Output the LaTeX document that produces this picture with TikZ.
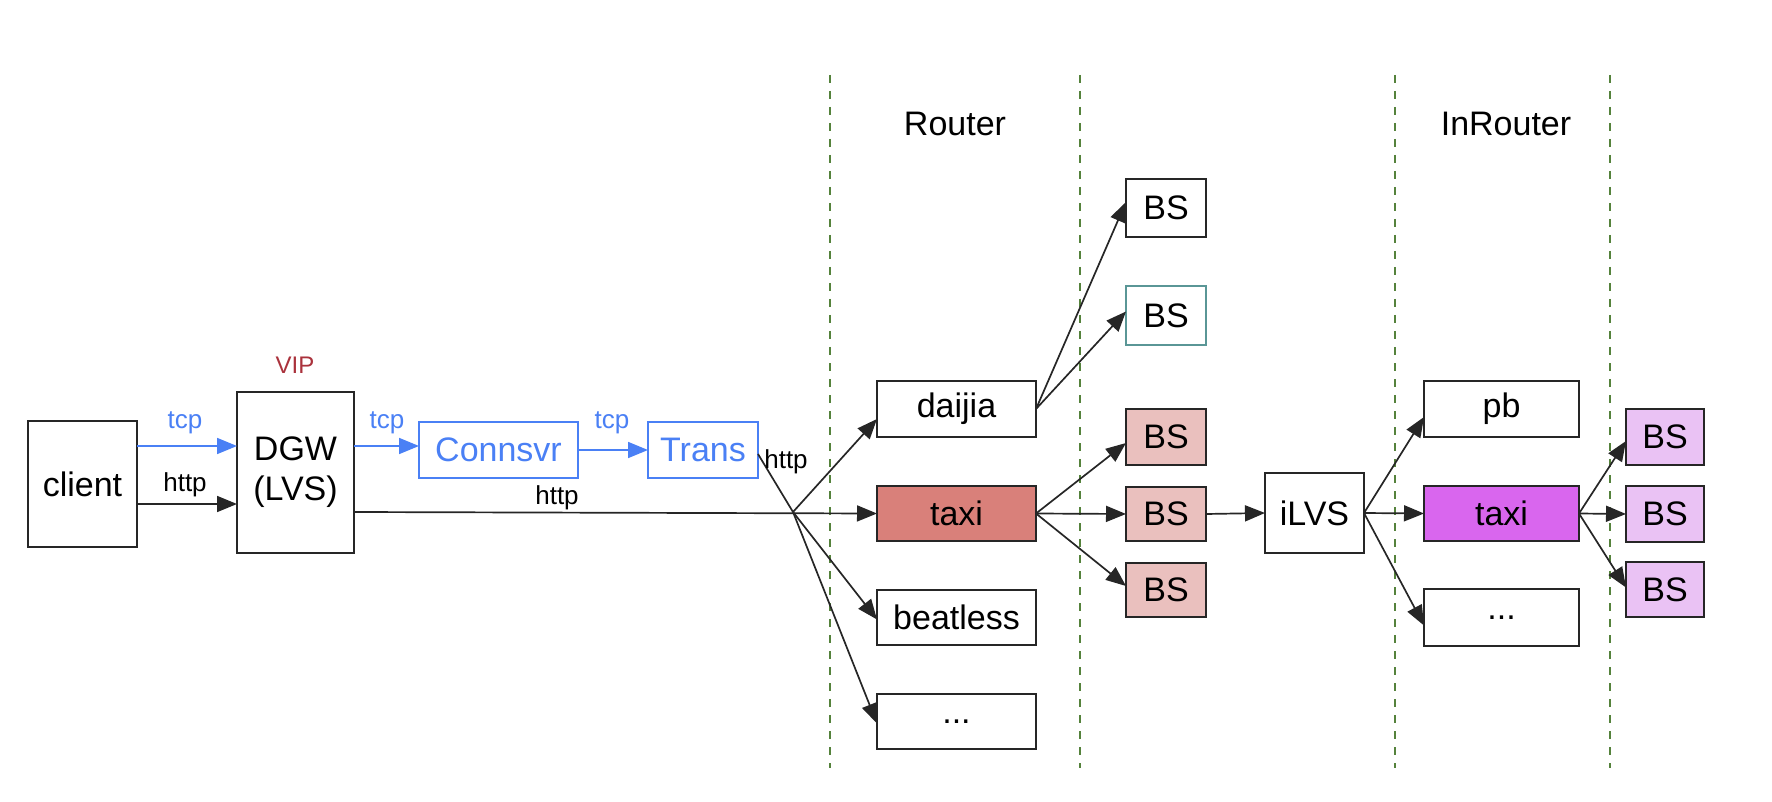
\documentclass[tikz,border=0pt]{standalone}
\usepackage{fontspec}
\setmainfont{Liberation Sans}
\usetikzlibrary{arrows.meta}
\definecolor{cblue}{RGB}{74,128,245}
\definecolor{cvip}{RGB}{170,50,60}
\definecolor{cgreen}{RGB}{85,130,60}
\definecolor{ctaxired}{RGB}{217,128,122}
\definecolor{cbspink}{RGB}{234,192,190}
\definecolor{ctaximag}{RGB}{217,102,238}
\definecolor{cbslilac}{RGB}{234,194,244}
\definecolor{cteal}{RGB}{90,150,150}
\begin{document}
\begin{tikzpicture}[x=0.5pt,y=-0.5pt,
  box/.style={draw=black!85,line width=1.1pt,inner sep=0pt,outer sep=0pt,font=\fontsize{17}{20}\selectfont,align=center},
  bluebox/.style={box,draw=cblue,text=cblue},
  lbl/.style={inner sep=0pt,font=\fontsize{13}{15}\selectfont},
  arr/.style={draw=black!85,line width=0.85pt,-{Triangle[length=10pt,width=8pt]}},
  barr/.style={arr,draw=cblue,-{Triangle[length=10pt,width=8pt,fill=cblue]},color=cblue},
  sep/.style={draw=cgreen,line width=0.9pt,dash pattern=on 4pt off 4pt},
  sz/.style n args={2}{minimum width=#1*0.5pt,minimum height=#2*0.5pt}]
\useasboundingbox (0,0) rectangle (1772,802);
% separators
\draw[sep] (830,75) -- (830,768);
\draw[sep] (1080,75) -- (1080,768);
\draw[sep] (1395,75) -- (1395,768);
\draw[sep] (1610,75) -- (1610,768);
\node[inner sep=0pt,font=\fontsize{17}{20}\selectfont] (router) at (955,124) {Router};
\node[inner sep=0pt,font=\fontsize{17}{20}\selectfont] (inrouter) at (1506,124) {InRouter};
% nodes
\node[box,sz={109}{126}] (client) at (82.5,484) {client};
\node[box,sz={117}{161}] (dgw) at (295.5,472.5) {DGW\\(LVS)};
\node[inner sep=0pt,text=cvip,font=\fontsize{12}{14}\selectfont] (vip) at (295,365) {VIP};
\node[bluebox,sz={159}{56}] (conn) at (498.5,450) {Connsvr};
\node[bluebox,sz={110}{56}] (trans) at (703,450) {Trans};
\node[box,sz={159}{56}] (daijia) at (956.5,409) {daijia};
\node[box,sz={159}{55},fill=ctaxired] (taxi) at (956.5,513.5) {taxi};
\node[box,sz={159}{55}] (beat) at (956.5,617.5) {beatless};
\node[box,sz={159}{55}] (dots1) at (956.5,721.5) {...};
\node[box,sz={80}{58}] (bs1) at (1166,208) {BS};
\node[box,sz={80}{59},draw=cteal] (bs2) at (1166,315.5) {BS};
\node[box,sz={80}{56},fill=cbspink] (bs3) at (1166,437) {BS};
\node[box,sz={80}{54},fill=cbspink] (bs4) at (1166,514) {BS};
\node[box,sz={80}{54},fill=cbspink] (bs5) at (1166,590) {BS};
\node[box,sz={99}{80}] (ilvs) at (1314.5,513) {iLVS};
\node[box,sz={155}{56}] (pb) at (1501.5,409) {pb};
\node[box,sz={155}{55},fill=ctaximag] (taxi2) at (1501.5,513.5) {taxi};
\node[box,sz={155}{57}] (dots2) at (1501.5,617.5) {...};
\node[box,sz={78}{56},fill=cbslilac] (bs6) at (1665,437) {BS};
\node[box,sz={78}{56},fill=cbslilac] (bs7) at (1665,514) {BS};
\node[box,sz={78}{55},fill=cbslilac] (bs8) at (1665,589.5) {BS};
% client -> DGW
\draw[barr] (client.east |- 0,446) -- (dgw.west |- 0,446);
\node[lbl,text=cblue] (tcp1) at (185,423) {tcp};
\draw[arr] (client.east |- 0,504) -- (dgw.west |- 0,504);
\node[lbl] (http1) at (185,485) {http};
% DGW -> Connsvr -> Trans
\draw[barr] (dgw.east |- 0,446) -- (conn.west |- 0,446);
\node[lbl,text=cblue] (tcp2) at (387,423) {tcp};
\draw[barr] (conn.east) -- (trans.west);
\node[lbl,text=cblue] (tcp3) at (612,423) {tcp};
% http from DGW to taxi
\coordinate (fan) at (793,512);
\draw[arr] (dgw.east |- 0,512) -- (taxi.west);
\node[lbl] (http2) at (557,498) {http};
% Trans fan
\draw[draw=black!85,line width=0.85pt] ([yshift=-2pt]trans.east) -- (fan);
\node[lbl] (http3) at (786,462) {http};
\draw[arr] (fan) -- ([yshift=-5pt]daijia.west);
\draw[arr] (fan) -- ([yshift=-1pt]beat.west);
\draw[arr] (fan) -- ([yshift=-1pt]dots1.west);
% daijia -> BS
\draw[arr] (daijia.east) -- ([yshift=3pt]bs1.west);
\draw[arr] (daijia.east) -- ([yshift=2pt]bs2.west);
% taxi -> BS
\draw[arr] (taxi.east) -- ([yshift=-3pt]bs3.west);
\draw[arr] (taxi.east) -- (bs4.west);
\draw[arr] (taxi.east) -- ([yshift=2pt]bs5.west);
% BS -> iLVS
\draw[arr] (bs4.east) -- (ilvs.west);
% iLVS -> InRouter
\draw[arr] (ilvs.east) -- ([yshift=-4pt]pb.west);
\draw[arr] (ilvs.east) -- (taxi2.west);
\draw[arr] (ilvs.east) -- ([yshift=-4pt]dots2.west);
% taxi2 -> BS
\draw[arr] (taxi2.east) -- ([yshift=-2pt]bs6.west);
\draw[arr] (taxi2.east) -- (bs7.west);
\draw[arr] (taxi2.east) -- ([yshift=1pt]bs8.west);
\end{tikzpicture}
\end{document}
